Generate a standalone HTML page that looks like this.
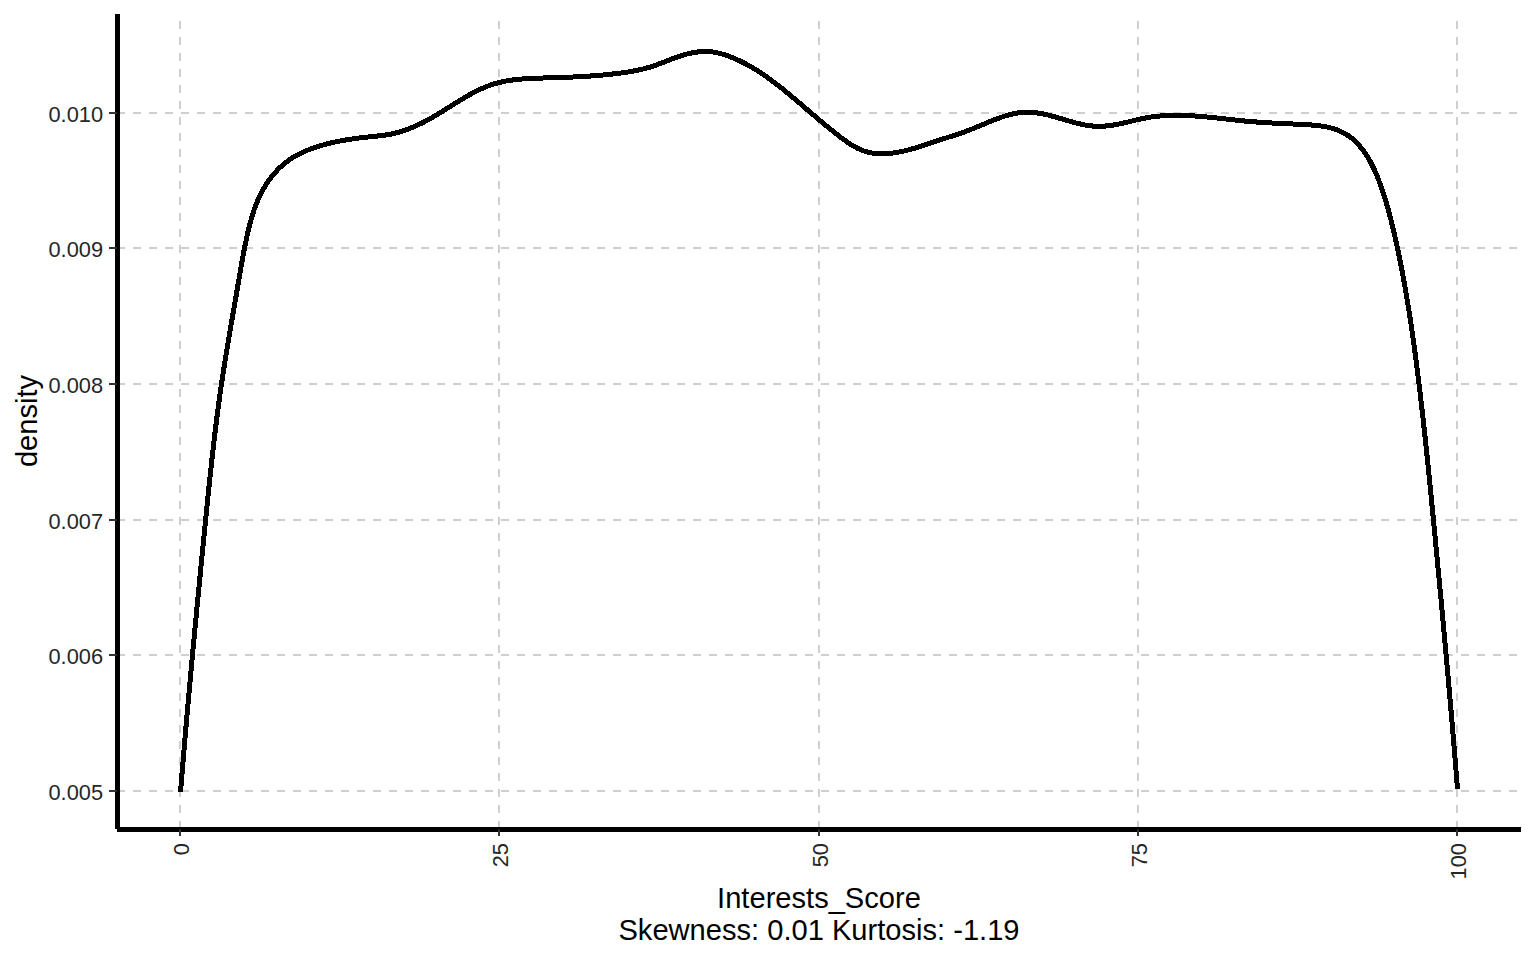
<!DOCTYPE html><html><head><meta charset="utf-8"><style>html,body{margin:0;padding:0;background:#fff;width:1536px;height:960px;overflow:hidden}svg{display:block}text{font-family:"Liberation Sans",sans-serif}</style></head><body>
<svg width="1536" height="960" viewBox="0 0 1536 960">
<rect width="1536" height="960" fill="#fff"/>
<g stroke="#cfcfcf" stroke-width="2" stroke-dasharray="8 8" fill="none"><line x1="117" y1="113" x2="1521" y2="113"/><line x1="117" y1="248" x2="1521" y2="248"/><line x1="117" y1="384" x2="1521" y2="384"/><line x1="117" y1="520" x2="1521" y2="520"/><line x1="117" y1="655" x2="1521" y2="655"/><line x1="117" y1="791" x2="1521" y2="791"/><line x1="180" y1="829" x2="180" y2="14"/><line x1="499" y1="829" x2="499" y2="14"/><line x1="819" y1="829" x2="819" y2="14"/><line x1="1138" y1="829" x2="1138" y2="14"/><line x1="1457" y1="829" x2="1457" y2="14"/></g>
<path d="M183.00,792.20L183.16,790.17L183.33,788.14L183.49,786.11L183.66,784.08L183.82,782.05L183.99,780.02L184.16,777.99L184.32,775.96L184.49,773.93L184.66,771.90L184.83,769.87L185.00,767.84L185.17,765.81L185.34,763.78L185.51,761.75L185.68,759.72L185.85,757.69L186.02,755.66L186.19,753.63L186.36,751.60L186.54,749.57L186.71,747.54L186.88,745.51L187.06,743.48L187.23,741.45L187.41,739.42L187.58,737.40L187.76,735.37L187.93,733.34L188.11,731.31L188.29,729.28L188.46,727.25L188.64,725.22L188.82,723.19L189.00,721.17L189.18,719.14L189.35,717.11L189.53,715.08L189.71,713.05L189.89,711.02L190.07,708.99L190.25,706.97L190.43,704.94L190.62,702.91L190.80,700.88L190.98,698.85L191.16,696.82L191.34,694.80L191.53,692.77L191.71,690.74L191.89,688.71L192.08,686.68L192.26,684.66L192.45,682.63L192.63,680.60L192.82,678.57L193.00,676.55L193.19,674.52L193.38,672.49L193.56,670.46L193.75,668.44L193.94,666.41L194.12,664.38L194.31,662.35L194.50,660.33L194.69,658.30L194.88,656.27L195.06,654.24L195.25,652.22L195.44,650.19L195.63,648.16L195.82,646.13L196.01,644.11L196.20,642.08L196.40,640.05L196.59,638.03L196.78,636.00L196.97,633.97L197.16,631.94L197.35,629.92L197.55,627.89L197.74,625.86L197.93,623.84L198.13,621.81L198.32,619.78L198.51,617.75L198.71,615.73L198.90,613.70L199.10,611.67L199.29,609.65L199.49,607.62L199.68,605.59L199.88,603.57L200.07,601.54L200.27,599.51L200.47,597.49L200.66,595.46L200.86,593.43L201.06,591.40L201.25,589.38L201.45,587.35L201.65,585.32L201.85,583.30L202.04,581.27L202.24,579.24L202.44,577.22L202.64,575.19L202.84,573.16L203.04,571.14L203.24,569.11L203.44,567.08L203.63,565.06L203.83,563.03L204.03,561.00L204.23,558.98L204.44,556.95L204.64,554.92L204.84,552.90L205.04,550.87L205.24,548.84L205.44,546.82L205.64,544.79L205.84,542.76L206.04,540.73L206.25,538.71L206.45,536.68L206.65,534.65L206.85,532.63L207.06,530.60L207.26,528.57L207.46,526.55L207.66,524.52L207.87,522.49L208.07,520.47L208.27,518.44L208.48,516.41L208.68,514.38L208.89,512.36L209.09,510.33L209.29,508.30L209.50,506.28L209.71,504.25L209.91,502.22L210.12,500.20L210.32,498.17L210.53,496.15L210.74,494.12L210.95,492.09L211.16,490.07L211.37,488.04L211.58,486.02L211.79,483.99L212.00,481.97L212.21,479.94L212.43,477.92L212.64,475.89L212.86,473.87L213.08,471.84L213.29,469.82L213.51,467.79L213.73,465.77L213.95,463.74L214.18,461.72L214.40,459.70L214.62,457.67L214.85,455.65L215.08,453.63L215.31,451.61L215.54,449.58L215.77,447.56L216.00,445.54L216.23,443.52L216.47,441.50L216.71,439.48L216.95,437.46L217.19,435.44L217.43,433.42L217.67,431.40L217.92,429.38L218.17,427.36L218.42,425.34L218.67,423.32L218.92,421.30L219.18,419.28L219.44,417.27L219.70,415.25L219.96,413.23L220.22,411.22L220.49,409.20L220.75,407.18L221.02,405.17L221.30,403.15L221.57,401.14L221.85,399.12L222.13,397.11L222.41,395.10L222.69,393.08L222.98,391.07L223.27,389.06L223.56,387.05L223.86,385.04L224.15,383.03L224.45,381.02L224.75,379.01L225.06,377.00L225.37,374.99L225.68,372.98L225.99,370.97L226.30,368.96L226.62,366.95L226.94,364.94L227.26,362.93L227.58,360.93L227.90,358.92L228.23,356.91L228.56,354.90L228.88,352.89L229.22,350.89L229.55,348.88L229.88,346.87L230.22,344.87L230.55,342.86L230.89,340.85L231.23,338.84L231.57,336.84L231.91,334.83L232.25,332.82L232.60,330.82L232.94,328.81L233.28,326.80L233.63,324.80L233.97,322.79L234.32,320.78L234.67,318.77L235.01,316.77L235.36,314.76L235.71,312.75L236.06,310.74L236.41,308.73L236.75,306.73L237.10,304.72L237.45,302.71L237.80,300.70L238.14,298.69L238.49,296.68L238.84,294.67L239.19,292.66L239.53,290.65L239.88,288.64L240.22,286.63L240.56,284.62L240.91,282.61L241.25,280.59L241.59,278.58L241.93,276.57L242.28,274.56L242.62,272.55L242.97,270.55L243.31,268.54L243.66,266.53L244.01,264.53L244.37,262.53L244.73,260.52L245.09,258.52L245.46,256.53L245.83,254.53L246.20,252.53L246.59,250.54L246.98,248.55L247.37,246.56L247.77,244.58L248.18,242.59L248.60,240.61L249.02,238.63L249.46,236.66L249.90,234.69L250.35,232.72L250.81,230.75L251.28,228.79L251.77,226.83L252.26,224.88L252.77,222.93L253.29,221.00L253.83,219.06L254.39,217.14L254.97,215.22L255.57,213.32L256.19,211.42L256.84,209.53L257.51,207.65L258.21,205.79L258.94,203.93L259.70,202.09L260.49,200.26L261.31,198.44L262.17,196.64L263.06,194.85L263.99,193.07L264.94,191.31L265.93,189.57L266.96,187.85L268.02,186.15L269.11,184.47L270.23,182.82L271.39,181.19L272.57,179.59L273.79,178.02L275.04,176.47L276.33,174.96L277.64,173.48L278.99,172.03L280.37,170.62L281.77,169.24L283.21,167.90L284.68,166.60L286.18,165.34L287.71,164.12L289.27,162.94L290.86,161.80L292.49,160.71L294.14,159.66L295.82,158.65L297.53,157.67L299.27,156.74L301.03,155.84L302.82,154.97L304.62,154.14L306.45,153.34L308.30,152.58L310.16,151.84L312.03,151.13L313.92,150.45L315.83,149.79L317.74,149.16L319.66,148.56L321.58,147.98L323.51,147.42L325.45,146.88L327.40,146.36L329.35,145.87L331.31,145.40L333.27,144.94L335.23,144.51L337.21,144.09L339.18,143.69L341.16,143.31L343.14,142.95L345.13,142.60L347.12,142.26L349.11,141.95L351.11,141.64L353.10,141.35L355.10,141.07L357.11,140.80L359.11,140.54L361.12,140.29L363.13,140.05L365.14,139.82L367.15,139.60L369.16,139.39L371.18,139.18L373.20,138.97L375.22,138.77L377.25,138.56L379.29,138.35L381.33,138.11L383.37,137.86L385.41,137.57L387.46,137.26L389.51,136.91L391.55,136.51L393.59,136.07L395.62,135.60L397.64,135.08L399.65,134.52L401.65,133.93L403.64,133.30L405.61,132.64L407.58,131.95L409.53,131.22L411.46,130.47L413.39,129.69L415.29,128.88L417.19,128.04L419.06,127.18L420.92,126.29L422.77,125.39L424.60,124.46L426.42,123.51L428.22,122.55L430.02,121.57L431.80,120.57L433.57,119.56L435.34,118.53L437.10,117.49L438.85,116.44L440.59,115.38L442.34,114.32L444.08,113.24L445.81,112.16L447.55,111.08L449.28,109.99L451.01,108.89L452.75,107.80L454.48,106.71L456.22,105.62L457.96,104.54L459.70,103.46L461.45,102.39L463.19,101.33L464.94,100.29L466.70,99.26L468.46,98.24L470.22,97.24L471.99,96.26L473.76,95.30L475.54,94.37L477.32,93.46L479.12,92.57L480.91,91.71L482.72,90.89L484.53,90.09L486.35,89.33L488.18,88.60L490.02,87.91L491.87,87.25L493.73,86.64L495.60,86.06L497.48,85.53L499.38,85.03L501.28,84.57L503.21,84.14L505.14,83.75L507.08,83.39L509.04,83.05L511.01,82.75L512.98,82.47L514.97,82.22L516.96,81.99L518.96,81.78L520.97,81.60L522.99,81.43L525.01,81.29L527.04,81.15L529.07,81.04L531.11,80.93L533.15,80.84L535.19,80.76L537.24,80.68L539.29,80.61L541.34,80.55L543.40,80.49L545.45,80.44L547.50,80.38L549.55,80.32L551.61,80.26L553.65,80.20L555.70,80.14L557.74,80.08L559.79,80.01L561.83,79.94L563.87,79.87L565.91,79.79L567.94,79.71L569.98,79.63L572.01,79.54L574.05,79.45L576.08,79.35L578.11,79.25L580.14,79.14L582.17,79.03L584.20,78.91L586.23,78.79L588.26,78.66L590.29,78.53L592.32,78.38L594.34,78.23L596.37,78.08L598.40,77.91L600.43,77.74L602.46,77.56L604.49,77.37L606.52,77.17L608.55,76.97L610.58,76.75L612.61,76.53L614.64,76.29L616.67,76.05L618.71,75.80L620.74,75.53L622.78,75.26L624.82,74.97L626.86,74.66L628.90,74.35L630.94,74.01L632.98,73.65L635.01,73.28L637.04,72.88L639.07,72.46L641.09,72.01L643.11,71.54L645.12,71.03L647.12,70.50L649.11,69.94L651.10,69.35L653.07,68.72L655.03,68.06L656.97,67.38L658.90,66.67L660.82,65.95L662.73,65.22L664.63,64.48L666.52,63.73L668.42,62.99L670.31,62.25L672.20,61.52L674.09,60.80L675.99,60.10L677.89,59.42L679.79,58.77L681.71,58.15L683.64,57.56L685.57,57.00L687.51,56.48L689.45,56.00L691.40,55.56L693.35,55.17L695.30,54.83L697.25,54.55L699.20,54.32L701.14,54.14L703.08,54.03L705.01,53.99L706.94,54.01L708.86,54.10L710.77,54.26L712.68,54.50L714.59,54.80L716.50,55.18L718.40,55.61L720.30,56.10L722.20,56.65L724.09,57.24L725.98,57.88L727.86,58.56L729.73,59.27L731.60,60.02L733.44,60.79L735.28,61.59L737.10,62.42L738.91,63.27L740.71,64.14L742.50,65.04L744.28,65.97L746.04,66.91L747.80,67.88L749.54,68.87L751.27,69.88L752.99,70.91L754.71,71.96L756.41,73.03L758.10,74.12L759.79,75.22L761.46,76.34L763.13,77.48L764.79,78.63L766.44,79.80L768.08,80.98L769.71,82.18L771.34,83.38L772.96,84.60L774.57,85.83L776.18,87.07L777.78,88.33L779.37,89.58L780.96,90.85L782.54,92.13L784.12,93.41L785.69,94.70L787.26,95.99L788.82,97.29L790.38,98.60L791.94,99.90L793.49,101.21L795.03,102.53L796.58,103.84L798.12,105.16L799.66,106.47L801.19,107.79L802.73,109.11L804.27,110.43L805.80,111.75L807.34,113.07L808.88,114.39L810.42,115.71L811.96,117.03L813.50,118.35L815.05,119.67L816.59,120.98L818.15,122.30L819.71,123.61L821.27,124.92L822.84,126.22L824.41,127.53L825.99,128.83L827.58,130.12L829.17,131.42L830.77,132.70L832.38,133.99L834.00,135.27L835.63,136.54L837.27,137.81L838.92,139.08L840.58,140.34L842.26,141.58L843.96,142.81L845.68,144.02L847.42,145.20L849.18,146.35L850.96,147.46L852.77,148.53L854.60,149.55L856.46,150.52L858.35,151.42L860.27,152.26L862.22,153.03L864.21,153.72L866.22,154.33L868.26,154.85L870.33,155.28L872.40,155.63L874.49,155.90L876.60,156.10L878.70,156.22L880.82,156.28L882.93,156.28L885.05,156.21L887.16,156.10L889.27,155.93L891.37,155.72L893.46,155.46L895.53,155.16L897.60,154.82L899.65,154.45L901.69,154.05L903.72,153.62L905.74,153.15L907.75,152.66L909.75,152.15L911.74,151.61L913.72,151.05L915.70,150.48L917.67,149.89L919.63,149.28L921.59,148.66L923.54,148.03L925.49,147.39L927.43,146.75L929.37,146.10L931.30,145.45L933.24,144.80L935.17,144.15L937.10,143.51L939.03,142.87L940.96,142.24L942.89,141.61L944.82,140.99L946.76,140.38L948.70,139.76L950.65,139.14L952.59,138.52L954.53,137.90L956.48,137.26L958.42,136.62L960.36,135.97L962.30,135.31L964.24,134.63L966.17,133.93L968.09,133.22L970.01,132.48L971.92,131.74L973.82,130.97L975.72,130.20L977.61,129.43L979.49,128.64L981.37,127.85L983.25,127.06L985.13,126.27L987.00,125.49L988.88,124.71L990.76,123.94L992.64,123.18L994.53,122.43L996.42,121.70L998.32,120.98L1000.22,120.28L1002.13,119.61L1004.04,118.96L1005.95,118.35L1007.87,117.77L1009.79,117.23L1011.71,116.74L1013.64,116.29L1015.56,115.89L1017.49,115.54L1019.41,115.25L1021.33,115.02L1023.25,114.85L1025.18,114.75L1027.10,114.71L1029.04,114.74L1030.98,114.83L1032.92,114.97L1034.87,115.17L1036.82,115.42L1038.78,115.71L1040.73,116.05L1042.68,116.42L1044.64,116.83L1046.59,117.28L1048.54,117.76L1050.50,118.26L1052.45,118.78L1054.41,119.33L1056.37,119.89L1058.33,120.46L1060.29,121.04L1062.25,121.63L1064.22,122.22L1066.19,122.80L1068.17,123.38L1070.15,123.95L1072.14,124.51L1074.13,125.05L1076.12,125.57L1078.13,126.07L1080.14,126.53L1082.15,126.97L1084.18,127.36L1086.21,127.72L1088.25,128.04L1090.30,128.30L1092.36,128.52L1094.43,128.68L1096.51,128.78L1098.59,128.81L1100.68,128.79L1102.76,128.71L1104.85,128.57L1106.93,128.39L1109.01,128.16L1111.08,127.89L1113.16,127.58L1115.23,127.24L1117.29,126.87L1119.35,126.47L1121.40,126.04L1123.45,125.60L1125.49,125.13L1127.52,124.66L1129.55,124.17L1131.56,123.68L1133.57,123.19L1135.57,122.71L1137.56,122.23L1139.54,121.77L1141.52,121.33L1143.49,120.91L1145.46,120.52L1147.43,120.15L1149.40,119.82L1151.37,119.52L1153.35,119.24L1155.33,118.99L1157.31,118.77L1159.29,118.57L1161.27,118.39L1163.26,118.25L1165.25,118.12L1167.24,118.02L1169.23,117.94L1171.22,117.88L1173.22,117.84L1175.22,117.82L1177.22,117.82L1179.22,117.83L1181.22,117.87L1183.23,117.92L1185.24,117.99L1187.24,118.07L1189.25,118.17L1191.27,118.28L1193.28,118.40L1195.30,118.54L1197.31,118.68L1199.33,118.84L1201.35,119.01L1203.37,119.18L1205.39,119.37L1207.41,119.56L1209.44,119.76L1211.46,119.97L1213.49,120.18L1215.52,120.40L1217.55,120.61L1219.57,120.84L1221.60,121.06L1223.63,121.29L1225.67,121.52L1227.70,121.74L1229.73,121.97L1231.76,122.19L1233.80,122.42L1235.83,122.64L1237.87,122.85L1239.90,123.06L1241.94,123.27L1243.97,123.47L1246.01,123.66L1248.05,123.84L1250.08,124.02L1252.12,124.19L1254.15,124.35L1256.18,124.50L1258.21,124.65L1260.25,124.79L1262.28,124.92L1264.31,125.05L1266.34,125.18L1268.37,125.30L1270.40,125.41L1272.42,125.52L1274.45,125.63L1276.48,125.74L1278.51,125.84L1280.54,125.94L1282.57,126.04L1284.60,126.13L1286.63,126.23L1288.66,126.32L1290.69,126.42L1292.73,126.51L1294.76,126.60L1296.79,126.70L1298.83,126.80L1300.87,126.89L1302.90,126.99L1304.94,127.10L1306.97,127.21L1308.99,127.33L1311.01,127.47L1313.02,127.63L1315.03,127.81L1317.02,128.01L1319.00,128.25L1320.98,128.52L1322.94,128.83L1324.89,129.18L1326.82,129.57L1328.75,130.01L1330.65,130.51L1332.54,131.05L1334.41,131.65L1336.26,132.31L1338.07,133.03L1339.85,133.81L1341.59,134.65L1343.29,135.55L1344.95,136.51L1346.56,137.55L1348.13,138.65L1349.66,139.81L1351.15,141.03L1352.60,142.31L1354.02,143.64L1355.39,145.03L1356.72,146.46L1358.02,147.94L1359.28,149.45L1360.50,151.01L1361.68,152.60L1362.83,154.22L1363.94,155.86L1365.01,157.54L1366.04,159.23L1367.05,160.95L1368.02,162.69L1368.96,164.45L1369.87,166.23L1370.76,168.02L1371.62,169.84L1372.46,171.66L1373.27,173.51L1374.06,175.36L1374.84,177.22L1375.59,179.09L1376.33,180.97L1377.05,182.86L1377.76,184.75L1378.45,186.65L1379.12,188.55L1379.78,190.46L1380.43,192.37L1381.06,194.29L1381.68,196.21L1382.29,198.14L1382.88,200.07L1383.47,202.00L1384.04,203.94L1384.60,205.88L1385.15,207.83L1385.69,209.78L1386.23,211.73L1386.75,213.68L1387.27,215.64L1387.77,217.60L1388.27,219.57L1388.77,221.54L1389.25,223.50L1389.73,225.48L1390.21,227.45L1390.68,229.42L1391.15,231.40L1391.61,233.38L1392.06,235.35L1392.51,237.33L1392.96,239.31L1393.41,241.30L1393.84,243.28L1394.28,245.26L1394.71,247.25L1395.14,249.23L1395.56,251.22L1395.97,253.20L1396.39,255.19L1396.80,257.18L1397.20,259.17L1397.61,261.16L1398.00,263.15L1398.40,265.15L1398.79,267.14L1399.17,269.13L1399.56,271.13L1399.93,273.13L1400.31,275.12L1400.68,277.12L1401.05,279.12L1401.41,281.12L1401.78,283.12L1402.13,285.12L1402.49,287.12L1402.84,289.12L1403.19,291.12L1403.53,293.13L1403.87,295.13L1404.21,297.13L1404.55,299.14L1404.88,301.15L1405.21,303.15L1405.53,305.16L1405.86,307.17L1406.18,309.18L1406.50,311.18L1406.81,313.19L1407.12,315.20L1407.43,317.21L1407.74,319.23L1408.05,321.24L1408.35,323.25L1408.65,325.26L1408.94,327.27L1409.24,329.29L1409.53,331.30L1409.82,333.31L1410.11,335.33L1410.40,337.34L1410.68,339.36L1410.96,341.38L1411.24,343.39L1411.52,345.41L1411.79,347.42L1412.07,349.44L1412.34,351.46L1412.61,353.48L1412.88,355.49L1413.14,357.51L1413.41,359.53L1413.67,361.55L1413.93,363.57L1414.19,365.59L1414.45,367.61L1414.71,369.63L1414.96,371.65L1415.22,373.67L1415.47,375.68L1415.72,377.70L1415.97,379.73L1416.22,381.75L1416.47,383.77L1416.71,385.79L1416.96,387.81L1417.20,389.83L1417.44,391.85L1417.68,393.87L1417.92,395.89L1418.16,397.91L1418.39,399.93L1418.63,401.96L1418.86,403.98L1419.10,406.00L1419.33,408.02L1419.56,410.04L1419.79,412.07L1420.02,414.09L1420.25,416.11L1420.47,418.13L1420.70,420.16L1420.92,422.18L1421.15,424.20L1421.37,426.23L1421.59,428.25L1421.81,430.27L1422.03,432.30L1422.25,434.32L1422.47,436.34L1422.69,438.37L1422.90,440.39L1423.12,442.42L1423.33,444.44L1423.55,446.46L1423.76,448.49L1423.97,450.51L1424.18,452.54L1424.40,454.56L1424.61,456.59L1424.82,458.61L1425.02,460.64L1425.23,462.66L1425.44,464.69L1425.65,466.71L1425.85,468.74L1426.06,470.76L1426.26,472.79L1426.47,474.81L1426.67,476.84L1426.88,478.87L1427.08,480.89L1427.28,482.92L1427.48,484.94L1427.68,486.97L1427.89,489.00L1428.09,491.02L1428.29,493.05L1428.49,495.07L1428.69,497.10L1428.89,499.13L1429.09,501.15L1429.28,503.18L1429.48,505.21L1429.68,507.23L1429.88,509.26L1430.08,511.29L1430.27,513.31L1430.47,515.34L1430.67,517.37L1430.87,519.40L1431.06,521.42L1431.26,523.45L1431.46,525.48L1431.65,527.50L1431.85,529.53L1432.04,531.56L1432.24,533.59L1432.44,535.61L1432.63,537.64L1432.83,539.67L1433.02,541.69L1433.22,543.72L1433.41,545.75L1433.61,547.78L1433.80,549.80L1434.00,551.83L1434.19,553.86L1434.39,555.89L1434.58,557.91L1434.77,559.94L1434.97,561.97L1435.16,564.00L1435.35,566.03L1435.55,568.05L1435.74,570.08L1435.93,572.11L1436.12,574.14L1436.32,576.16L1436.51,578.19L1436.70,580.22L1436.89,582.25L1437.08,584.28L1437.27,586.30L1437.46,588.33L1437.66,590.36L1437.85,592.39L1438.04,594.41L1438.23,596.44L1438.42,598.47L1438.61,600.50L1438.80,602.53L1438.98,604.56L1439.17,606.58L1439.36,608.61L1439.55,610.64L1439.74,612.67L1439.93,614.70L1440.11,616.72L1440.30,618.75L1440.49,620.78L1440.68,622.81L1440.86,624.84L1441.05,626.87L1441.24,628.89L1441.42,630.92L1441.61,632.95L1441.79,634.98L1441.98,637.01L1442.16,639.04L1442.35,641.07L1442.53,643.09L1442.72,645.12L1442.90,647.15L1443.09,649.18L1443.27,651.21L1443.45,653.24L1443.64,655.27L1443.82,657.29L1444.00,659.32L1444.18,661.35L1444.36,663.38L1444.55,665.41L1444.73,667.44L1444.91,669.47L1445.09,671.50L1445.27,673.52L1445.45,675.55L1445.63,677.58L1445.81,679.61L1445.99,681.64L1446.17,683.67L1446.35,685.70L1446.52,687.73L1446.70,689.76L1446.88,691.78L1447.06,693.81L1447.23,695.84L1447.41,697.87L1447.59,699.90L1447.76,701.93L1447.94,703.96L1448.11,705.99L1448.29,708.02L1448.46,710.05L1448.64,712.08L1448.81,714.10L1448.99,716.13L1449.16,718.16L1449.33,720.19L1449.51,722.22L1449.68,724.25L1449.85,726.28L1450.02,728.31L1450.19,730.34L1450.37,732.37L1450.54,734.40L1450.71,736.43L1450.88,738.46L1451.05,740.49L1451.22,742.52L1451.39,744.54L1451.55,746.57L1451.72,748.60L1451.89,750.63L1452.06,752.66L1452.23,754.69L1452.39,756.72L1452.56,758.75L1452.73,760.78L1452.89,762.81L1453.06,764.84L1453.22,766.87L1453.39,768.90L1453.55,770.93L1453.71,772.96L1453.88,774.99L1454.04,777.02L1454.20,779.05L1454.37,781.08L1454.53,783.11L1454.69,785.14L1454.85,787.17L1455.01,789.20L1460.00,788.80L1459.84,786.77L1459.67,784.74L1459.51,782.71L1459.35,780.68L1459.19,778.65L1459.02,776.62L1458.86,774.59L1458.70,772.56L1458.53,770.53L1458.37,768.50L1458.21,766.47L1458.04,764.43L1457.87,762.40L1457.71,760.37L1457.54,758.34L1457.38,756.31L1457.21,754.28L1457.04,752.25L1456.87,750.22L1456.71,748.19L1456.54,746.16L1456.37,744.13L1456.20,742.10L1456.03,740.07L1455.86,738.04L1455.69,736.01L1455.52,733.98L1455.35,731.95L1455.18,729.92L1455.01,727.89L1454.83,725.86L1454.66,723.83L1454.49,721.80L1454.32,719.77L1454.14,717.74L1453.97,715.71L1453.79,713.68L1453.62,711.65L1453.45,709.62L1453.27,707.59L1453.10,705.56L1452.92,703.53L1452.74,701.50L1452.57,699.47L1452.39,697.44L1452.21,695.41L1452.04,693.38L1451.86,691.35L1451.68,689.32L1451.50,687.29L1451.33,685.26L1451.15,683.23L1450.97,681.20L1450.79,679.17L1450.61,677.14L1450.43,675.11L1450.25,673.08L1450.07,671.05L1449.89,669.02L1449.71,666.99L1449.53,664.96L1449.34,662.93L1449.16,660.90L1448.98,658.88L1448.80,656.85L1448.61,654.82L1448.43,652.79L1448.25,650.76L1448.07,648.73L1447.88,646.70L1447.70,644.67L1447.51,642.64L1447.33,640.61L1447.14,638.58L1446.96,636.55L1446.77,634.52L1446.59,632.50L1446.40,630.47L1446.22,628.44L1446.03,626.41L1445.84,624.38L1445.66,622.35L1445.47,620.32L1445.28,618.29L1445.09,616.26L1444.91,614.23L1444.72,612.21L1444.53,610.18L1444.34,608.15L1444.15,606.12L1443.96,604.09L1443.77,602.06L1443.58,600.03L1443.39,598.01L1443.20,595.98L1443.01,593.95L1442.82,591.92L1442.63,589.89L1442.44,587.86L1442.25,585.83L1442.06,583.81L1441.87,581.78L1441.68,579.75L1441.49,577.72L1441.29,575.69L1441.10,573.66L1440.91,571.64L1440.72,569.61L1440.52,567.58L1440.33,565.55L1440.14,563.52L1439.94,561.50L1439.75,559.47L1439.56,557.44L1439.36,555.41L1439.17,553.38L1438.97,551.35L1438.78,549.33L1438.59,547.30L1438.39,545.27L1438.20,543.24L1438.00,541.22L1437.80,539.19L1437.61,537.16L1437.41,535.13L1437.22,533.10L1437.02,531.08L1436.83,529.05L1436.63,527.02L1436.43,524.99L1436.24,522.97L1436.04,520.94L1435.84,518.91L1435.65,516.88L1435.45,514.86L1435.25,512.83L1435.05,510.80L1434.86,508.77L1434.66,506.75L1434.46,504.72L1434.26,502.69L1434.06,500.67L1433.86,498.64L1433.66,496.61L1433.46,494.58L1433.26,492.56L1433.06,490.53L1432.86,488.50L1432.66,486.48L1432.46,484.45L1432.26,482.42L1432.05,480.39L1431.85,478.37L1431.65,476.34L1431.44,474.31L1431.24,472.29L1431.03,470.26L1430.83,468.23L1430.62,466.21L1430.41,464.18L1430.21,462.15L1430.00,460.13L1429.79,458.10L1429.58,456.07L1429.37,454.05L1429.16,452.02L1428.95,449.99L1428.73,447.97L1428.52,445.94L1428.31,443.91L1428.09,441.89L1427.88,439.86L1427.66,437.84L1427.44,435.81L1427.22,433.78L1427.00,431.76L1426.78,429.73L1426.56,427.71L1426.34,425.68L1426.12,423.66L1425.89,421.63L1425.67,419.60L1425.44,417.58L1425.22,415.55L1424.99,413.53L1424.76,411.50L1424.53,409.48L1424.30,407.45L1424.07,405.43L1423.83,403.40L1423.60,401.38L1423.36,399.35L1423.12,397.33L1422.89,395.31L1422.65,393.28L1422.40,391.26L1422.16,389.23L1421.92,387.21L1421.67,385.18L1421.43,383.16L1421.18,381.14L1420.93,379.11L1420.68,377.09L1420.43,375.07L1420.18,373.04L1419.92,371.02L1419.67,369.00L1419.41,366.97L1419.15,364.95L1418.89,362.93L1418.63,360.91L1418.36,358.88L1418.10,356.86L1417.83,354.84L1417.56,352.82L1417.29,350.79L1417.02,348.77L1416.75,346.75L1416.47,344.73L1416.19,342.71L1415.91,340.69L1415.63,338.67L1415.35,336.64L1415.06,334.62L1414.77,332.60L1414.48,330.58L1414.19,328.57L1413.89,326.55L1413.59,324.53L1413.29,322.51L1412.99,320.49L1412.68,318.47L1412.38,316.46L1412.07,314.44L1411.75,312.42L1411.44,310.41L1411.12,308.39L1410.79,306.38L1410.47,304.36L1410.14,302.35L1409.81,300.33L1409.48,298.32L1409.14,296.31L1408.80,294.29L1408.46,292.28L1408.11,290.27L1407.76,288.26L1407.41,286.25L1407.06,284.24L1406.70,282.23L1406.33,280.22L1405.97,278.22L1405.60,276.21L1405.22,274.20L1404.85,272.20L1404.47,270.19L1404.08,268.19L1403.69,266.18L1403.30,264.18L1402.91,262.18L1402.51,260.18L1402.10,258.18L1401.70,256.18L1401.28,254.18L1400.87,252.18L1400.45,250.18L1400.03,248.19L1399.60,246.19L1399.16,244.20L1398.73,242.20L1398.29,240.21L1397.84,238.22L1397.39,236.23L1396.94,234.24L1396.48,232.25L1396.01,230.26L1395.54,228.27L1395.07,226.28L1394.59,224.30L1394.11,222.31L1393.62,220.33L1393.12,218.34L1392.62,216.36L1392.10,214.38L1391.58,212.40L1391.05,210.43L1390.52,208.45L1389.97,206.48L1389.41,204.51L1388.84,202.54L1388.26,200.57L1387.67,198.61L1387.06,196.65L1386.45,194.69L1385.81,192.74L1385.17,190.79L1384.51,188.84L1383.84,186.90L1383.15,184.96L1382.45,183.02L1381.73,181.09L1380.99,179.17L1380.24,177.25L1379.46,175.33L1378.67,173.42L1377.86,171.51L1377.02,169.61L1376.15,167.73L1375.26,165.85L1374.34,163.98L1373.39,162.13L1372.41,160.29L1371.39,158.47L1370.34,156.67L1369.24,154.88L1368.11,153.12L1366.94,151.38L1365.73,149.66L1364.47,147.97L1363.17,146.32L1361.83,144.69L1360.43,143.11L1358.99,141.56L1357.51,140.07L1355.97,138.62L1354.39,137.22L1352.76,135.88L1351.07,134.61L1349.34,133.39L1347.55,132.25L1345.72,131.18L1343.84,130.18L1341.93,129.26L1339.99,128.41L1338.02,127.63L1336.02,126.92L1334.00,126.27L1331.97,125.68L1329.93,125.15L1327.88,124.68L1325.82,124.27L1323.77,123.90L1321.70,123.57L1319.64,123.29L1317.57,123.04L1315.51,122.83L1313.44,122.64L1311.38,122.48L1309.31,122.34L1307.26,122.22L1305.20,122.10L1303.15,122.00L1301.11,121.90L1299.07,121.80L1297.03,121.70L1294.99,121.61L1292.96,121.52L1290.92,121.42L1288.89,121.33L1286.86,121.23L1284.84,121.14L1282.81,121.04L1280.78,120.94L1278.76,120.84L1276.74,120.74L1274.72,120.64L1272.69,120.53L1270.67,120.42L1268.66,120.30L1266.64,120.19L1264.62,120.06L1262.60,119.93L1260.58,119.80L1258.57,119.66L1256.55,119.51L1254.54,119.36L1252.52,119.20L1250.50,119.04L1248.49,118.86L1246.47,118.68L1244.45,118.49L1242.43,118.29L1240.41,118.09L1238.39,117.88L1236.36,117.66L1234.34,117.45L1232.31,117.22L1230.28,117.00L1228.25,116.77L1226.22,116.55L1224.19,116.32L1222.16,116.09L1220.12,115.87L1218.09,115.64L1216.05,115.42L1214.01,115.21L1211.98,114.99L1209.94,114.79L1207.90,114.59L1205.86,114.39L1203.82,114.20L1201.77,114.03L1199.73,113.86L1197.69,113.70L1195.65,113.55L1193.60,113.41L1191.56,113.28L1189.51,113.17L1187.47,113.07L1185.42,112.99L1183.38,112.92L1181.33,112.87L1179.28,112.83L1177.24,112.82L1175.19,112.82L1173.14,112.84L1171.10,112.88L1169.05,112.94L1167.01,113.02L1164.96,113.13L1162.91,113.26L1160.87,113.41L1158.82,113.59L1156.78,113.79L1154.73,114.02L1152.69,114.28L1150.65,114.57L1148.60,114.88L1146.56,115.23L1144.52,115.61L1142.48,116.01L1140.45,116.44L1138.43,116.90L1136.41,117.37L1134.40,117.85L1132.39,118.33L1130.38,118.82L1128.37,119.31L1126.37,119.79L1124.37,120.26L1122.37,120.71L1120.36,121.15L1118.36,121.56L1116.37,121.95L1114.37,122.31L1112.38,122.64L1110.39,122.94L1108.41,123.20L1106.43,123.41L1104.47,123.59L1102.50,123.71L1100.55,123.79L1098.61,123.81L1096.67,123.78L1094.74,123.69L1092.81,123.54L1090.88,123.34L1088.96,123.09L1087.03,122.79L1085.10,122.45L1083.16,122.07L1081.23,121.65L1079.29,121.20L1077.35,120.72L1075.41,120.22L1073.47,119.69L1071.52,119.15L1069.57,118.58L1067.61,118.01L1065.65,117.43L1063.69,116.84L1061.71,116.25L1059.74,115.67L1057.76,115.09L1055.77,114.52L1053.77,113.96L1051.77,113.42L1049.76,112.91L1047.74,112.42L1045.71,111.95L1043.68,111.52L1041.63,111.13L1039.57,110.77L1037.51,110.46L1035.44,110.20L1033.36,109.99L1031.28,109.84L1029.19,109.74L1027.10,109.71L1025.00,109.75L1022.91,109.86L1020.82,110.04L1018.74,110.29L1016.67,110.61L1014.61,110.98L1012.56,111.40L1010.52,111.88L1008.49,112.41L1006.47,112.97L1004.47,113.58L1002.48,114.21L1000.50,114.88L998.53,115.58L996.57,116.29L994.63,117.03L992.70,117.78L990.78,118.54L988.87,119.31L986.97,120.09L985.08,120.87L983.19,121.66L981.31,122.45L979.44,123.24L977.56,124.03L975.69,124.81L973.82,125.58L971.95,126.34L970.08,127.09L968.21,127.82L966.33,128.54L964.45,129.23L962.56,129.91L960.66,130.58L958.76,131.24L956.84,131.88L954.92,132.51L953.00,133.14L951.06,133.76L949.13,134.38L947.19,134.99L945.25,135.61L943.30,136.23L941.36,136.85L939.41,137.48L937.46,138.12L935.52,138.77L933.58,139.41L931.64,140.06L929.71,140.71L927.78,141.36L925.85,142.01L923.92,142.65L921.99,143.28L920.07,143.90L918.14,144.51L916.21,145.10L914.28,145.68L912.35,146.25L910.41,146.79L908.47,147.31L906.53,147.81L904.59,148.29L902.64,148.73L900.68,149.15L898.72,149.54L896.75,149.90L894.78,150.22L892.79,150.50L890.81,150.75L888.81,150.95L886.82,151.11L884.84,151.22L882.85,151.28L880.88,151.28L878.92,151.23L876.97,151.11L875.05,150.93L873.14,150.68L871.25,150.37L869.39,149.98L867.56,149.51L865.75,148.97L863.96,148.34L862.19,147.65L860.44,146.88L858.70,146.04L856.97,145.15L855.26,144.20L853.56,143.19L851.87,142.14L850.19,141.04L848.52,139.91L846.87,138.74L845.22,137.55L843.58,136.33L841.95,135.10L840.32,133.85L838.70,132.60L837.09,131.34L835.49,130.07L833.90,128.80L832.31,127.53L830.73,126.25L829.16,124.96L827.59,123.67L826.03,122.38L824.47,121.08L822.92,119.78L821.37,118.48L819.83,117.17L818.28,115.86L816.74,114.55L815.21,113.23L813.67,111.92L812.13,110.60L810.60,109.28L809.06,107.96L807.53,106.64L805.99,105.32L804.45,104.00L802.91,102.68L801.37,101.36L799.82,100.04L798.27,98.72L796.72,97.40L795.16,96.08L793.60,94.77L792.03,93.45L790.45,92.14L788.87,90.84L787.28,89.54L785.69,88.24L784.09,86.95L782.48,85.67L780.87,84.39L779.25,83.13L777.62,81.87L775.98,80.62L774.33,79.38L772.68,78.15L771.01,76.94L769.34,75.73L767.66,74.54L765.96,73.36L764.26,72.20L762.55,71.06L760.82,69.92L759.09,68.81L757.34,67.71L755.58,66.64L753.81,65.58L752.03,64.54L750.24,63.52L748.43,62.52L746.61,61.54L744.78,60.59L742.93,59.66L741.07,58.76L739.20,57.88L737.31,57.02L735.41,56.19L733.49,55.39L731.55,54.62L729.60,53.87L727.63,53.16L725.65,52.49L723.64,51.86L721.62,51.28L719.59,50.75L717.53,50.29L715.47,49.88L713.39,49.55L711.29,49.29L709.19,49.11L707.08,49.01L704.98,48.99L702.88,49.04L700.78,49.16L698.68,49.34L696.59,49.59L694.51,49.90L692.43,50.26L690.36,50.67L688.31,51.13L686.26,51.64L684.23,52.18L682.21,52.76L680.20,53.38L678.21,54.03L676.24,54.71L674.28,55.40L672.34,56.12L670.41,56.85L668.50,57.59L666.59,58.33L664.69,59.08L662.81,59.82L660.92,60.55L659.04,61.28L657.16,61.98L655.28,62.67L653.40,63.33L651.51,63.97L649.62,64.57L647.72,65.14L645.80,65.68L643.87,66.19L641.93,66.68L639.98,67.13L638.02,67.57L636.05,67.98L634.08,68.36L632.09,68.73L630.10,69.08L628.11,69.41L626.11,69.72L624.10,70.02L622.10,70.30L620.09,70.58L618.08,70.84L616.07,71.09L614.06,71.33L612.05,71.56L610.04,71.78L608.03,71.99L606.02,72.20L604.01,72.39L602.00,72.58L600.00,72.76L597.99,72.93L595.98,73.09L593.97,73.25L591.96,73.40L589.94,73.54L587.93,73.67L585.92,73.80L583.90,73.92L581.89,74.04L579.87,74.15L577.86,74.26L575.84,74.36L573.82,74.45L571.79,74.55L569.77,74.63L567.74,74.72L565.72,74.80L563.69,74.87L561.65,74.94L559.62,75.01L557.58,75.08L555.55,75.14L553.50,75.21L551.46,75.27L549.41,75.33L547.37,75.38L545.31,75.44L543.26,75.49L541.20,75.55L539.13,75.62L537.07,75.68L535.00,75.76L532.93,75.84L530.87,75.94L528.80,76.04L526.73,76.16L524.66,76.30L522.60,76.45L520.54,76.62L518.48,76.81L516.42,77.02L514.37,77.26L512.32,77.52L510.28,77.80L508.24,78.12L506.21,78.46L504.18,78.84L502.16,79.25L500.16,79.70L498.15,80.18L496.16,80.71L494.18,81.27L492.21,81.87L490.25,82.52L488.31,83.21L486.38,83.94L484.46,84.70L482.56,85.49L480.67,86.32L478.80,87.18L476.93,88.07L475.08,88.99L473.24,89.93L471.41,90.89L469.58,91.88L467.77,92.88L465.97,93.90L464.18,94.94L462.39,95.99L460.61,97.05L458.84,98.12L457.08,99.20L455.32,100.29L453.57,101.38L451.83,102.47L450.09,103.57L448.35,104.66L446.62,105.75L444.89,106.84L443.16,107.92L441.44,108.99L439.72,110.06L437.99,111.11L436.27,112.16L434.54,113.19L432.81,114.22L431.08,115.22L429.34,116.21L427.59,117.19L425.84,118.15L424.08,119.09L422.31,120.01L420.54,120.91L418.75,121.79L416.95,122.65L415.13,123.48L413.31,124.29L411.46,125.07L409.61,125.82L407.75,126.55L405.87,127.25L403.99,127.91L402.09,128.55L400.19,129.15L398.27,129.72L396.35,130.25L394.43,130.74L392.49,131.20L390.56,131.61L388.61,131.99L386.66,132.32L384.69,132.63L382.72,132.90L380.73,133.15L378.74,133.38L376.73,133.59L374.72,133.80L372.70,134.00L370.67,134.20L368.64,134.41L366.61,134.63L364.58,134.85L362.55,135.09L360.52,135.33L358.49,135.58L356.46,135.84L354.42,136.11L352.39,136.40L350.37,136.69L348.34,137.01L346.31,137.33L344.28,137.67L342.26,138.03L340.24,138.40L338.21,138.79L336.20,139.20L334.18,139.62L332.17,140.07L330.16,140.53L328.15,141.02L326.15,141.52L324.15,142.05L322.15,142.61L320.16,143.18L318.18,143.78L316.20,144.40L314.23,145.05L312.26,145.73L310.30,146.44L308.35,147.18L306.42,147.94L304.49,148.74L302.58,149.58L300.68,150.45L298.81,151.36L296.95,152.31L295.11,153.30L293.30,154.33L291.51,155.41L289.75,156.53L288.02,157.69L286.31,158.91L284.65,160.17L283.01,161.47L281.42,162.81L279.85,164.20L278.32,165.62L276.83,167.09L275.37,168.58L273.94,170.12L272.55,171.68L271.20,173.28L269.87,174.91L268.59,176.57L267.34,178.26L266.12,179.97L264.94,181.71L263.80,183.47L262.69,185.25L261.61,187.05L260.58,188.88L259.57,190.72L258.60,192.58L257.67,194.45L256.78,196.34L255.92,198.24L255.09,200.15L254.30,202.07L253.54,204.00L252.82,205.93L252.12,207.88L251.45,209.83L250.81,211.79L250.19,213.75L249.60,215.72L249.03,217.69L248.47,219.67L247.94,221.65L247.42,223.63L246.92,225.62L246.43,227.61L245.95,229.60L245.48,231.59L245.02,233.58L244.57,235.58L244.14,237.57L243.71,239.57L243.29,241.57L242.87,243.58L242.47,245.58L242.07,247.59L241.68,249.59L241.29,251.60L240.91,253.61L240.54,255.62L240.17,257.63L239.81,259.64L239.45,261.65L239.09,263.66L238.74,265.67L238.39,267.68L238.04,269.70L237.69,271.71L237.35,273.72L237.00,275.73L236.66,277.74L236.32,279.76L235.98,281.77L235.64,283.78L235.29,285.78L234.95,287.79L234.60,289.80L234.26,291.81L233.91,293.82L233.56,295.83L233.22,297.84L232.87,299.85L232.52,301.85L232.18,303.86L231.83,305.87L231.48,307.88L231.13,309.89L230.78,311.90L230.44,313.90L230.09,315.91L229.74,317.92L229.39,319.93L229.05,321.94L228.70,323.95L228.36,325.96L228.01,327.96L227.67,329.97L227.32,331.98L226.98,333.99L226.64,336.00L226.30,338.01L225.96,340.02L225.62,342.03L225.29,344.04L224.95,346.05L224.62,348.06L224.28,350.07L223.95,352.08L223.62,354.09L223.29,356.11L222.97,358.12L222.64,360.13L222.32,362.14L222.00,364.16L221.68,366.17L221.36,368.18L221.05,370.20L220.73,372.21L220.42,374.23L220.12,376.24L219.81,378.26L219.51,380.28L219.21,382.29L218.91,384.31L218.61,386.33L218.32,388.35L218.03,390.36L217.74,392.38L217.46,394.40L217.18,396.42L216.90,398.44L216.62,400.46L216.34,402.48L216.07,404.50L215.80,406.52L215.53,408.54L215.26,410.57L215.00,412.59L214.74,414.61L214.48,416.63L214.22,418.65L213.96,420.68L213.71,422.70L213.46,424.72L213.21,426.75L212.96,428.77L212.71,430.79L212.47,432.82L212.22,434.84L211.98,436.87L211.74,438.89L211.50,440.92L211.27,442.94L211.03,444.97L210.80,446.99L210.57,449.02L210.34,451.04L210.11,453.07L209.88,455.09L209.65,457.12L209.43,459.15L209.21,461.17L208.98,463.20L208.76,465.23L208.54,467.25L208.32,469.28L208.10,471.31L207.89,473.33L207.67,475.36L207.46,477.39L207.24,479.42L207.03,481.44L206.82,483.47L206.60,485.50L206.39,487.53L206.18,489.55L205.97,491.58L205.77,493.61L205.56,495.64L205.35,497.66L205.14,499.69L204.94,501.72L204.73,503.75L204.53,505.77L204.32,507.80L204.12,509.83L203.91,511.86L203.71,513.88L203.50,515.91L203.30,517.94L203.10,519.97L202.89,521.99L202.69,524.02L202.49,526.05L202.28,528.08L202.08,530.10L201.88,532.13L201.68,534.16L201.47,536.18L201.27,538.21L201.07,540.24L200.87,542.27L200.67,544.29L200.46,546.32L200.26,548.35L200.06,550.38L199.86,552.40L199.66,554.43L199.46,556.46L199.26,558.48L199.06,560.51L198.86,562.54L198.66,564.57L198.46,566.59L198.26,568.62L198.06,570.65L197.86,572.68L197.66,574.70L197.46,576.73L197.27,578.76L197.07,580.78L196.87,582.81L196.67,584.84L196.47,586.87L196.28,588.89L196.08,590.92L195.88,592.95L195.69,594.98L195.49,597.00L195.29,599.03L195.10,601.06L194.90,603.09L194.70,605.11L194.51,607.14L194.31,609.17L194.12,611.20L193.92,613.22L193.73,615.25L193.54,617.28L193.34,619.31L193.15,621.33L192.96,623.36L192.76,625.39L192.57,627.42L192.38,629.44L192.18,631.47L191.99,633.50L191.80,635.53L191.61,637.56L191.42,639.58L191.23,641.61L191.04,643.64L190.85,645.67L190.66,647.69L190.47,649.72L190.28,651.75L190.09,653.78L189.90,655.81L189.71,657.84L189.52,659.86L189.33,661.89L189.14,663.92L188.96,665.95L188.77,667.98L188.58,670.00L188.40,672.03L188.21,674.06L188.02,676.09L187.84,678.12L187.65,680.15L187.47,682.18L187.28,684.20L187.10,686.23L186.91,688.26L186.73,690.29L186.55,692.32L186.36,694.35L186.18,696.38L186.00,698.41L185.82,700.43L185.64,702.46L185.45,704.49L185.27,706.52L185.09,708.55L184.91,710.58L184.73,712.61L184.55,714.64L184.37,716.67L184.19,718.70L184.02,720.73L183.84,722.76L183.66,724.79L183.48,726.82L183.31,728.85L183.13,730.88L182.95,732.91L182.78,734.94L182.60,736.97L182.43,739.00L182.25,741.03L182.08,743.06L181.90,745.09L181.73,747.12L181.56,749.15L181.38,751.18L181.21,753.21L181.04,755.24L180.87,757.27L180.70,759.30L180.52,761.33L180.35,763.36L180.18,765.39L180.01,767.42L179.85,769.45L179.68,771.48L179.51,773.52L179.34,775.55L179.17,777.58L179.01,779.61L178.84,781.64L178.67,783.67L178.51,785.70L178.34,787.74L178.18,789.77L178.01,791.80Z" fill="#000" shape-rendering="crispEdges"/>
<rect x="115" y="14" width="5" height="815" fill="#000"/>
<rect x="117" y="827" width="1404" height="5" fill="#000"/>
<g stroke="#333" stroke-width="2"><line x1="109" y1="113" x2="116.7" y2="113"/><line x1="109" y1="248" x2="116.7" y2="248"/><line x1="109" y1="384" x2="116.7" y2="384"/><line x1="109" y1="520" x2="116.7" y2="520"/><line x1="109" y1="655" x2="116.7" y2="655"/><line x1="109" y1="791" x2="116.7" y2="791"/><line x1="180" y1="829.5" x2="180" y2="836"/><line x1="499" y1="829.5" x2="499" y2="836"/><line x1="819" y1="829.5" x2="819" y2="836"/><line x1="1138" y1="829.5" x2="1138" y2="836"/><line x1="1457" y1="829.5" x2="1457" y2="836"/></g>
<g fill="#262626" font-size="21.8px"><text x="103" y="122" text-anchor="end">0.010</text><text x="103" y="257" text-anchor="end">0.009</text><text x="103" y="393" text-anchor="end">0.008</text><text x="103" y="529" text-anchor="end">0.007</text><text x="103" y="664" text-anchor="end">0.006</text><text x="103" y="800" text-anchor="end">0.005</text></g>
<g fill="#262626" font-size="21.8px"><text transform="translate(189,843) rotate(-90)" text-anchor="end">0</text><text transform="translate(508,843) rotate(-90)" text-anchor="end">25</text><text transform="translate(828,843) rotate(-90)" text-anchor="end">50</text><text transform="translate(1147,843) rotate(-90)" text-anchor="end">75</text><text transform="translate(1466,843) rotate(-90)" text-anchor="end">100</text></g>
<g fill="#000" font-size="29.1px" text-anchor="middle">
<text x="819" y="908">Interests_Score</text>
<text x="819" y="940">Skewness: 0.01 Kurtosis: -1.19</text>
<text transform="translate(37,421) rotate(-90)">density</text>
</g>
</svg></body></html>
